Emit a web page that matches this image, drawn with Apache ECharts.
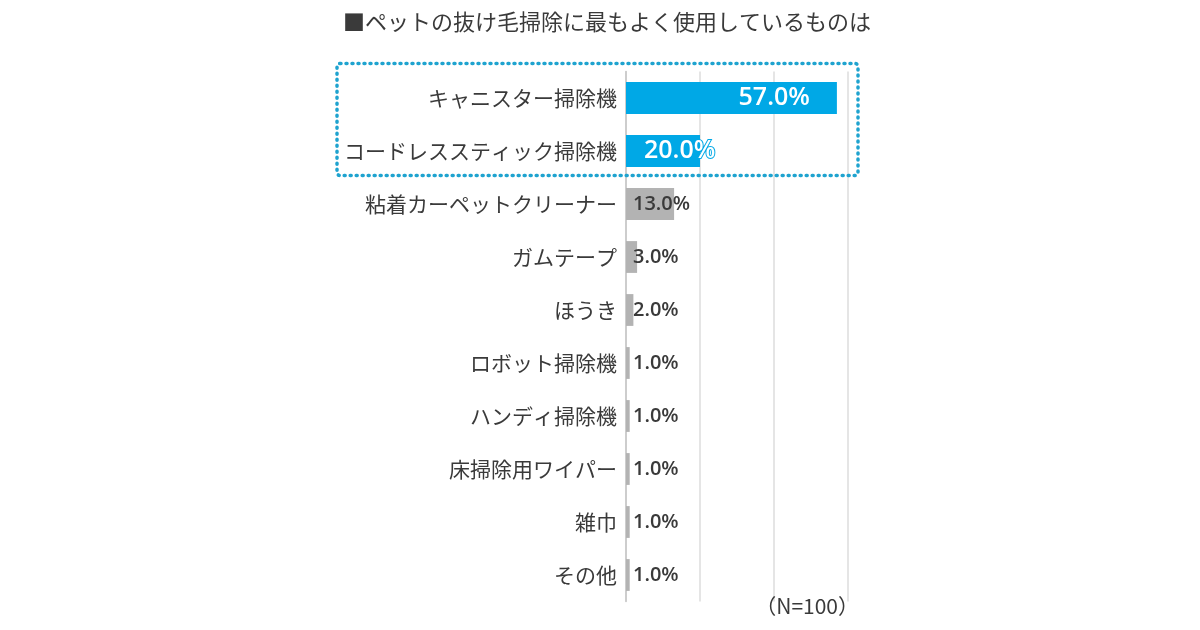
<!DOCTYPE html>
<html><head><meta charset="utf-8">
<script src="https://cdn.jsdelivr.net/npm/echarts@6/dist/echarts.min.js"></script>
<style>html,body{margin:0;padding:0;background:#fff}#c{width:1200px;height:630px}</style>
</head><body><div id="c"></div>
<script>
const title = '■ペットの抜け毛掃除に最もよく使用しているものは';
const categories = ['キャニスター掃除機','コードレススティック掃除機','粘着カーペットクリーナー','ガムテープ','ほうき','ロボット掃除機','ハンディ掃除機','床掃除用ワイパー','雑巾','その他'];
const values = [57.0, 20.0, 13.0, 3.0, 2.0, 1.0, 1.0, 1.0, 1.0, 1.0];
const highlighted = [0, 1];
const xTicks = [0, 20, 40, 60];
const note = '（N=100）';

const BLUE = '#00a8e6', GRAY = '#b3b3b3', TXT = '#3a3a3a';
const numFont = '"Open Sans", "Noto Sans CJK JP", sans-serif';
const jpFont = '"Noto Sans CJK JP", sans-serif';

const data = values.map((v, i) => {
  const hi = highlighted.includes(i);
  const item = { value: v, itemStyle: { color: hi ? BLUE : GRAY } };
  if (hi) {
    item.label = i === 0
      ? { position: 'insideRight', distance: 27, color: '#fff', fontSize: 25, fontFamily: numFont }
      : { position: 'insideLeft', distance: 18, color: '#fff', fontSize: 25, fontFamily: numFont, textBorderColor: BLUE, textBorderWidth: 2 };
  }
  return item;
});

const chart = echarts.init(document.getElementById('c'));
chart.setOption({
  animation: false,
  backgroundColor: '#fff',
  title: { text: title, left: 338, top: 6, textStyle: { fontFamily: jpFont, fontSize: 22, fontWeight: 'normal', color: TXT } },
  grid: { left: 626, right: 352, top: 71.5, bottom: 28.5, containLabel: false },
  xAxis: {
    type: 'value', min: xTicks[0], max: xTicks[xTicks.length - 1], interval: xTicks[1] - xTicks[0],
    axisLabel: { show: false }, axisTick: { show: false }, axisLine: { show: false },
    splitLine: { lineStyle: { color: '#dcdcdc', width: 1.5 } }
  },
  yAxis: {
    type: 'category', data: categories, inverse: true,
    axisTick: { show: false },
    axisLine: { lineStyle: { color: '#c4c4c4', width: 1.5 } },
    axisLabel: { margin: 9, fontSize: 21, color: TXT, fontFamily: jpFont }
  },
  series: [{
    type: 'bar', data: data, barCategoryGap: '40%',
    label: { show: true, position: 'insideLeft', distance: 7, formatter: p => p.value.toFixed(1) + '%', fontSize: 20, fontWeight: 600, color: TXT, fontFamily: numFont }
  }]
});

const yTop = chart.convertToPixel({ yAxisIndex: 0 }, categories[highlighted[0]]);
const yBot = chart.convertToPixel({ yAxisIndex: 0 }, categories[highlighted[highlighted.length - 1]]);
const xEnd = chart.convertToPixel({ xAxisIndex: 0 }, xTicks[xTicks.length - 1]);
const half = 26.5;
chart.setOption({
  graphic: [
    { type: 'rect', shape: { x: 337, y: yTop - half - 8, width: xEnd + 10 - 337, height: (yBot - yTop) + 2 * half + 6, r: 3 },
      style: { fill: 'none', stroke: '#1fa3cf', lineWidth: 3.5, lineDash: [1, 5], lineCap: 'round' }, z: 10 },
    { type: 'text', x: xEnd + 11, y: 606, style: { text: note, font: '21px ' + jpFont, fill: TXT, align: 'right', verticalAlign: 'middle' } }
  ]
});
</script></body></html>
